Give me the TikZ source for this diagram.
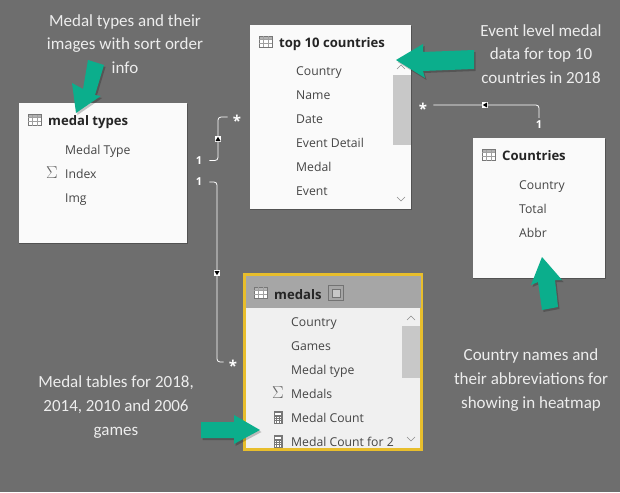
\documentclass[tikz,border=0pt]{standalone}
\usepackage{fontspec}
\setmainfont{Open Sans}
\newfontfamily\notefont{Carlito}
\definecolor{bgc}{HTML}{6E6E6E}
\definecolor{grn}{HTML}{0BAE8C}
\definecolor{fieldc}{HTML}{454545}
\definecolor{titlec}{HTML}{252525}
\definecolor{scrollc}{HTML}{C8C8C8}
\definecolor{iconc}{HTML}{777777}
\definecolor{gold}{HTML}{E8BE2C}
\tikzset{
  x=1pt,y=-1pt,
  tablebox/.style={fill=white!98!black,inner sep=0pt,outer sep=0pt,anchor=north west},
  field/.style={anchor=west,inner sep=0pt,text=fieldc,font=\fontsize{12.2}{14}\selectfont,text height=9pt,text depth=3pt,yshift=-2.4pt},
  ttl/.style={anchor=west,inner sep=0pt,text=titlec,font=\bfseries\fontsize{13.1}{15}\selectfont,text height=9.5pt,text depth=3pt,yshift=-2.4pt},
  note/.style={align=center,inner sep=0pt,text=white!93!black,font=\notefont\fontsize{17}{23.7}\selectfont},
  card/.style={inner sep=0pt,text=white,font=\bfseries\fontsize{11}{12}\selectfont},
  cardstar/.style={inner sep=0pt,text=white,font=\bfseries\fontsize{15}{15}\selectfont,text height=4pt,text depth=4pt},
  rel/.style={draw=white,line width=0.8pt,rounded corners=3pt},
  markbox/.style={fill=white,inner sep=0pt,minimum size=6pt},
  grnarrow/.style={fill=grn},
  grnshadow/.style={fill=black,opacity=0.22},
  tri/.style={fill=black},
  chev/.style={draw=black!45,line width=0.6pt},
  sbar/.style={fill=scrollc},
  sigma/.style={anchor=center,inner sep=0pt,text=iconc!85!black,font=\fontsize{19}{19}\selectfont},
  tbl/.pic={
    \fill[white] (0,0) rectangle (13,11);
    \fill[black!30] (0,0) rectangle (13,3);
    \draw[iconc,line width=0.6pt] (0,0) rectangle (13,11);
    \draw[iconc!70,line width=0.4pt] (0,3)--(13,3) (0,7)--(13,7) (4.3,0)--(4.3,11) (8.7,0)--(8.7,11);
  },
  calc/.pic={
    \fill[iconc] (0,0) rectangle (9,13);
    \fill[white] (1.5,1.5) rectangle (7.5,4);
    \foreach \a in {1.5,3.8,6.1} \foreach \b in {5.5,7.8,10.1} \fill[white] (\a,\b) rectangle ++(1.4,1.4);
  }
}
\newcommand{\cardmany}{\raisebox{-9.5pt}{*}}
\begin{document}
\begin{tikzpicture}
\useasboundingbox (0,0) rectangle (620,492);
\fill[bgc] (0,0) rectangle (620,492);

% tables
\fill[black,opacity=.25] (19,104) rectangle (188,244);
\node[tablebox,minimum width=168pt,minimum height=140pt] (mt) at (19,103) {};
\fill[black,opacity=.25] (250,26) rectangle (412,210);
\node[tablebox,minimum width=161pt,minimum height=184pt] (top) at (250,25) {};
\fill[black,opacity=.25] (473,139) rectangle (606,279);
\node[tablebox,minimum width=132pt,minimum height=140pt] (co) at (473,138) {};
\node[anchor=north west,fill=black!6,draw=gold,line width=3pt,inner sep=0pt,outer sep=0pt,minimum width=177pt,minimum height=175pt] (me) at (244.5,274.5) {};
\fill[black!35] (246,276) rectangle (421,308);

% scrollbars
\fill[sbar] (393,75) rectangle (411,145);
\draw[chev] (397,69)--(401,65)--(405,69);
\draw[chev] (397,197)--(401,201)--(405,197);
\fill[sbar] (402,326) rectangle (420,378);
\draw[chev] (407,320)--(411,316)--(415,320);
\draw[chev] (407,437)--(411,441)--(415,437);

% medal types
\pic at (28,114.5) {tbl};
\node[ttl] (mtt) at (48,120) {medal types};
\node[field] (mt1) at (65,149) {Medal Type};
\node[sigma] (mts) at (52,173) {$\Sigma$};
\node[field] (mt2) at (65,173) {Index};
\node[field] (mt3) at (65,197) {Img};

% top 10 countries
\pic at (259,36) {tbl};
\node[ttl] (topt) at (279,42) {top 10 countries};
\node[field] (t1) at (296,70) {Country};
\node[field] (t2) at (296,94) {Name};
\node[field] (t3) at (296,118) {Date};
\node[field] (t4) at (296,142) {Event Detail};
\node[field] (t5) at (296,166) {Medal};
\node[field] (t6) at (296,190) {Event};

% Countries
\pic at (482,149.5) {tbl};
\node[ttl] (cot) at (502,155) {Countries};
\node[field] (c1) at (519,184) {Country};
\node[field] (c2) at (519,208) {Total};
\node[field] (c3) at (519,232) {Abbr};

% medals
\pic at (254,287) {tbl};
\node[ttl] (met) at (274,293.5) {medals};
\draw[black!55,line width=0.7pt] (328.5,285.5) rectangle (343.5,300.5);
\draw[black!55,line width=0.7pt,fill=black!22] (332,289) rectangle (340,297);
\node[field] (m1) at (291,321) {Country};
\node[field] (m2) at (291,345) {Games};
\node[field] (m3) at (291,369) {Medal type};
\node[sigma] (ms) at (278,393) {$\Sigma$};
\node[field] (m4) at (291,393) {Medals};
\pic at (273.5,411) {calc};
\node[field] (m5) at (291,417) {Medal Count};
\pic at (273.5,435) {calc};
\node[field] (m6) at (291,441) {Medal Count for 2};

% connectors
\node[card] (one1) at (199,160.5) {1};
\node[cardstar] (star1) at (237,117) {\cardmany};
\node[card] (one2) at (199,182) {1};
\node[cardstar] (star2) at (233,362) {\cardmany};
\node[cardstar] (star3) at (423,105) {\cardmany};
\node[card] (one3) at (539,125) {1};
\coordinate (p1) at (218,139);
\coordinate (p2) at (217,273);
\coordinate (p3) at (485,105);
\draw[rel,shorten <=7pt,shorten >=5pt] (one1.east) -| (p1) |- (star1.west);
\draw[rel,shorten <=7pt,shorten >=5pt] (one2.east) -| (p2) |- (star2.west);
\draw[rel,shorten <=6pt,shorten >=3pt] (star3.east) -| (one3.north);
\node[markbox] (m1b) at (p1) {};
\fill[tri] (215.5,141) -- (220.5,141) -- (218,136.8) -- cycle;
\node[markbox] (m2b) at (p2) {};
\fill[tri] (214.5,271) -- (219.5,271) -- (217,275.2) -- cycle;
\node[markbox] (m3b) at (p3) {};
\fill[tri] (487,102.5) -- (487,107.5) -- (482.8,105) -- cycle;

% arrows
\def\arrA{(76,113)--(72,83)--(83,89)--(88,60)--(104,65)--(95,95)--(100.7,96)--cycle}
\def\arrB{(396,60)--(423,44)--(423,52)--(474,50)--(474,69)--(423,71)--(425,78)--cycle}
\def\arrC{(260,430)--(234,415)--(234,422)--(201,422)--(201,438)--(234,438)--(234,444)--cycle}
\def\arrD{(542,257)--(562,280)--(555,280)--(558,307)--(542,310)--(538,282)--(531,285)--cycle}
\foreach \p in {\arrA,\arrB,\arrC,\arrD}{
  \begin{scope}[shift={(1.5,2)}]\expandafter\fill\expandafter[\expandafter g\expandafter r\expandafter n\expandafter s\expandafter h\expandafter a\expandafter d\expandafter o\expandafter w\expandafter]\p;\end{scope}
  \expandafter\fill\expandafter[\expandafter g\expandafter r\expandafter n\expandafter a\expandafter r\expandafter r\expandafter o\expandafter w\expandafter]\p;
}

% notes
\node[note] (n1) at (125,44) {Medal types and their\\images with sort order\\info};
\node[note] (n2) at (541,54) {Event level medal\\data for top 10\\countries in 2018};
\node[note] (n3) at (531,380) {Country names and\\their abbreviations for\\showing in heatmap};
\node[note] (n4) at (116,407) {Medal tables for 2018,\\2014, 2010 and 2006\\games};
\end{tikzpicture}
\end{document}
